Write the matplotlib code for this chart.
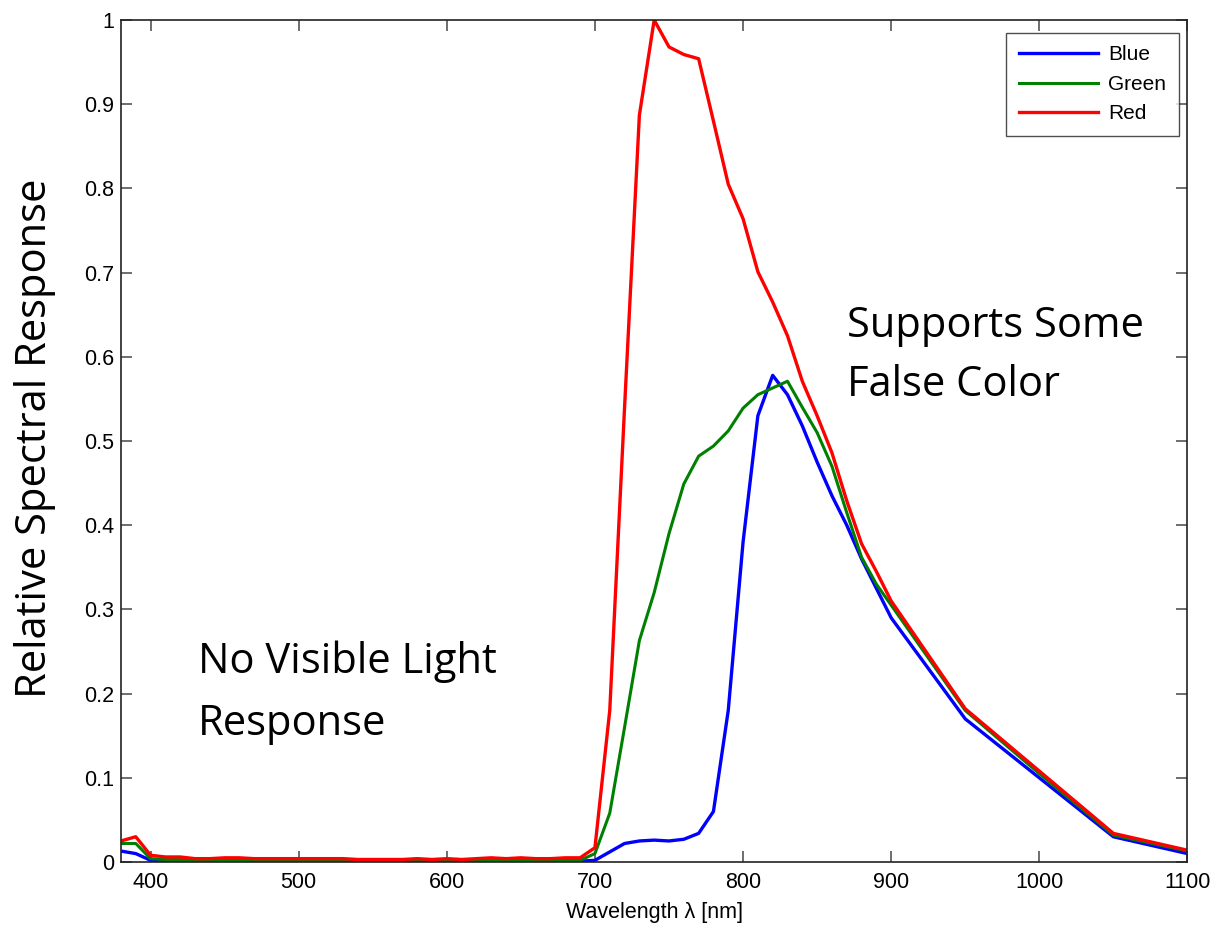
"""Relative spectral response of a camera sensor (blue / green / red channels)."""
import matplotlib
matplotlib.use("Agg")
import matplotlib.pyplot as plt

# wavelengths in nm
wavelength = [380, 390, 400, 410, 420, 430, 440, 450, 460, 470, 480, 490, 500,
              510, 520, 530, 540, 550, 560, 570, 580, 590, 600, 610, 620, 630,
              640, 650, 660, 670, 680, 690, 700, 710, 720, 730, 740, 750, 760,
              770, 780, 790, 800, 810, 820, 830, 840, 850, 860, 870, 880, 890,
              900, 950, 1000, 1050, 1100]

blue = [0.013, 0.010, 0.002, 0.001, 0.001, 0.001, 0.001, 0.001, 0.001, 0.001,
        0.001, 0.001, 0.001, 0.001, 0.001, 0.001, 0.001, 0.001, 0.001, 0.001,
        0.001, 0.001, 0.001, 0.001, 0.001, 0.001, 0.001, 0.001, 0.001, 0.001,
        0.001, 0.001, 0.002, 0.012, 0.022, 0.025, 0.026, 0.025, 0.027, 0.034,
        0.060, 0.180, 0.380, 0.530, 0.578, 0.555, 0.518, 0.475, 0.435, 0.400,
        0.360, 0.325, 0.290, 0.170, 0.100, 0.030, 0.010]

green = [0.022, 0.022, 0.004, 0.003, 0.003, 0.002, 0.002, 0.002, 0.002, 0.002,
         0.002, 0.002, 0.002, 0.002, 0.002, 0.002, 0.002, 0.001, 0.001, 0.001,
         0.002, 0.001, 0.002, 0.001, 0.002, 0.002, 0.002, 0.002, 0.002, 0.002,
         0.002, 0.002, 0.010, 0.058, 0.160, 0.263, 0.320, 0.390, 0.449, 0.482,
         0.494, 0.512, 0.539, 0.555, 0.563, 0.571, 0.540, 0.510, 0.470, 0.415,
         0.362, 0.330, 0.305, 0.180, 0.105, 0.032, 0.013]

red = [0.025, 0.030, 0.008, 0.006, 0.006, 0.004, 0.004, 0.005, 0.005, 0.004,
       0.004, 0.004, 0.004, 0.004, 0.004, 0.004, 0.003, 0.003, 0.003, 0.003,
       0.004, 0.003, 0.004, 0.003, 0.004, 0.005, 0.004, 0.005, 0.004, 0.004,
       0.005, 0.005, 0.017, 0.180, 0.540, 0.887, 1.000, 0.968, 0.959, 0.954,
       0.880, 0.805, 0.764, 0.701, 0.665, 0.625, 0.571, 0.530, 0.486, 0.429,
       0.378, 0.345, 0.310, 0.182, 0.108, 0.034, 0.014]

fig = plt.figure(figsize=(12.18, 9.26), dpi=100)
ax = fig.add_axes([0.0993, 0.0691, 0.8756, 0.9093])

ax.plot(wavelength, blue, color="#0000ff", lw=2.4, label="Blue")
ax.plot(wavelength, green, color="#008000", lw=2.2, label="Green")
ax.plot(wavelength, red, color="#ff0000", lw=2.4, label="Red")

ax.set_xlim(380, 1100)
ax.set_ylim(0, 1)
ax.set_xticks(range(400, 1101, 100))
ax.set_yticks([i / 10 for i in range(11)])
ax.set_yticklabels(["0", "0.1", "0.2", "0.3", "0.4", "0.5", "0.6", "0.7",
                    "0.8", "0.9", "1"])
ax.tick_params(direction="in", top=True, right=True, length=8, width=1.2,
               color="#555555", labelsize=15.5,
               labelfontfamily="Liberation Sans")
ax.tick_params(axis="y", pad=5)
ax.tick_params(axis="x", pad=7)
for spine in ax.spines.values():
    spine.set_linewidth(1.2)
    spine.set_color("#222222")

ax.set_xlabel("Wavelength λ [nm]", fontsize=15.5, family="Liberation Sans",
              labelpad=7)
fig.text(0.0285, 0.5265, "Relative Spectral Response", rotation=90,
         fontsize=30, family="Open Sans", va="center", ha="center")

# va="baseline" lines up the last line's baseline
ax.text(0.072, 0.151, "No Visible Light\nResponse", transform=ax.transAxes,
        fontsize=30, family="Open Sans", linespacing=1.63, va="baseline")
ax.text(0.681, 0.553, "Supports Some\nFalse Color", transform=ax.transAxes,
        fontsize=30, family="Open Sans", linespacing=1.55, va="baseline")

leg = ax.legend(loc="upper right", bbox_to_anchor=(0.992, 0.9846),
                borderaxespad=0, frameon=True, fancybox=False,
                edgecolor="#222222", handlelength=3.8, handletextpad=0.5,
                labelspacing=0.5, borderpad=0.6,
                prop={"family": "Liberation Sans", "size": 15})
leg.get_frame().set_linewidth(1.0)

fig.savefig("out.png", dpi=100)
